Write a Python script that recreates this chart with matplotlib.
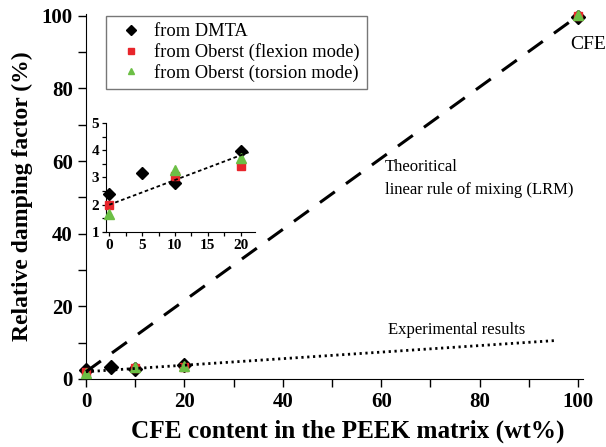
import matplotlib
matplotlib.use("Agg")
import matplotlib.pyplot as plt
import numpy as np
from matplotlib.ticker import MultipleLocator

plt.rcParams['font.family'] = ['Liberation Serif', 'DejaVu Serif']
plt.rcParams['mathtext.fontset'] = 'stix'

# Data
cfe_main = [0, 5, 10, 20, 100]
dmta_main = [2.39, 3.18, 2.78, 3.98, 99.6]
flex_x = [0, 10, 20, 100]
flex_main = [2.0, 3.07, 3.43, 100.0]
tors_x = [0, 10, 20, 100]
tors_main = [1.65, 3.28, 3.7, 100.3]

lrm_x = [0, 100]
lrm_y = [2.0, 100.0]
exp_x = [0, 95.5]
exp_y = [2.0, 10.6]

inset_fit_x = [0, 21.5]
inset_fit_y = [2.0, 3.95]

red = '#e8252b'
green = '#6cbf45'

fig = plt.figure(figsize=(6.06, 4.47), dpi=100)
ax = fig.add_axes([86/606, 1-379/447, (583-86)/606, (379-14)/447])

def draw_points(a, cut=None, ms=(7, 6, 7)):
    dx = cfe_main if cut is None else cfe_main[:cut]
    dy = dmta_main if cut is None else dmta_main[:cut]
    fx = flex_x if cut is None else flex_x[:cut-1]
    fy = flex_main if cut is None else flex_main[:cut-1]
    tx = tors_x if cut is None else tors_x[:cut-1]
    ty = tors_main if cut is None else tors_main[:cut-1]
    a.plot(dx, dy, 'D', color='black', ms=ms[0], mec='black', ls='none', label='from DMTA',
           zorder=3, clip_on=False)
    a.plot(fx, fy, 's', color=red, ms=ms[1], mec=red, ls='none', label='from Oberst (flexion mode)',
           zorder=4, clip_on=False)
    a.plot(tx, ty, '^', color=green, ms=ms[2], mec=green, ls='none', label='from Oberst (torsion mode)',
           zorder=5, clip_on=False)

draw_points(ax)
ax.plot(lrm_x, lrm_y, color='black', lw=2.2, dashes=(6, 4.5), zorder=6, clip_on=False)
ax.plot(exp_x, exp_y, color='black', lw=2.0, dashes=(0.8, 1.3), zorder=6, clip_on=False)

ax.set_xlim(0, 101)
ax.set_ylim(0, 100.5)
ax.spines['top'].set_visible(False)
ax.spines['right'].set_visible(False)
ax.xaxis.set_major_locator(MultipleLocator(20))
ax.xaxis.set_minor_locator(MultipleLocator(10))
ax.yaxis.set_major_locator(MultipleLocator(20))
ax.yaxis.set_minor_locator(MultipleLocator(10))
ax.tick_params(which='both', direction='out', width=1.0, labelsize=15)
ax.tick_params(which='major', length=6)
ax.tick_params(which='minor', length=6)
for lab in ax.get_xticklabels() + ax.get_yticklabels():
    lab.set_fontweight('bold')
ax.set_xlabel('CFE content in the PEEK matrix (wt%)', fontsize=18.2, fontweight='bold')
ax.xaxis.set_label_coords(0.526, -0.111)
ax.set_ylabel('Relative damping factor (%)', fontsize=17, fontweight='bold', labelpad=6)

leg = ax.legend(loc='upper left', bbox_to_anchor=((106-86)/497, 1-(16-14)/365), fontsize=13.3,
                frameon=True, fancybox=False, edgecolor='#555555', handlelength=1.95,
                handletextpad=0.25, labelspacing=0.15, borderpad=0.4, markerscale=0.7,
                borderaxespad=0)
leg.get_frame().set_linewidth(1.0)

ax.text(60.8, 55.3, 'Theoritical\nlinear rule of mixing (LRM)', fontsize=12, ha='left', va='center',
        linespacing=1.6)
ax.text(61.4, 13.4, 'Experimental results', fontsize=12, ha='left', va='center')
ax.text(98.5, 92.0, 'CFE', fontsize=14, ha='left', va='center')

# inset
ins = fig.add_axes([106/606, 1-232/447, (255-106)/606, (232-123)/447])
draw_points(ins, cut=4, ms=(6, 5.5, 7))
ins.plot(inset_fit_x, inset_fit_y, color='black', lw=1.3, dashes=(2, 1.5), zorder=6)
ins.set_xlim(-0.5, 22.2)
ins.set_ylim(1, 5)
ins.spines['top'].set_visible(False)
ins.spines['right'].set_visible(False)
ins.xaxis.set_major_locator(MultipleLocator(5))
ins.xaxis.set_minor_locator(MultipleLocator(2.5))
ins.yaxis.set_major_locator(MultipleLocator(1))
ins.yaxis.set_minor_locator(MultipleLocator(0.5))
ins.tick_params(which='both', direction='out', width=0.9, labelsize=11, length=3, pad=2)
for lab in ins.get_xticklabels() + ins.get_yticklabels():
    lab.set_fontweight('bold')

fig.savefig('out.png', dpi=100)
